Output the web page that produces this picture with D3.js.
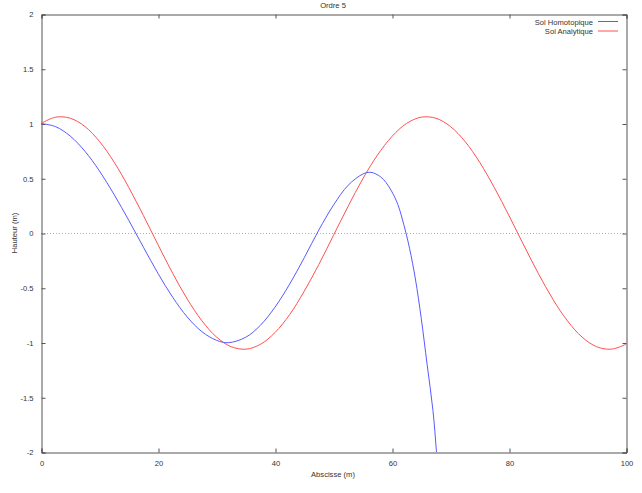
<!DOCTYPE html>
<html>
<head>
<meta charset="utf-8">
<script src="https://cdn.jsdelivr.net/npm/d3@7/dist/d3.min.js"></script>
<style>
  html, body { margin: 0; padding: 0; background: #fff; }
  svg { display: block; }
  text { font-family: "Liberation Sans", Arial, sans-serif; font-size: 7.6px; fill: #333; }
</style>
</head>
<body>
<svg id="chart" width="642" height="493"></svg>
<script>
// ---- data ----
const title = "Ordre 5";
const xLabel = "Abscisse (m)";
const yLabel = "Hauteur (m)";
const xTicks = [0, 20, 40, 60, 80, 100];
const yTicks = [-2, -1.5, -1, -0.5, 0, 0.5, 1, 1.5, 2];
const seriesNames = ["Sol Homotopique", "Sol Analytique"];

const homoX = [0, 2.5, 5, 7.5, 10, 12.5, 15, 17.5, 20, 22.5, 25, 27.5, 30, 32, 35, 37.5, 40, 42.5, 45, 47.5, 50, 52.5, 55, 56.4, 58, 59, 60, 61, 62, 63, 64, 65, 66, 67, 67.6, 68];
const homoY = [1.000, 0.971, 0.885, 0.747, 0.566, 0.351, 0.116, -0.129, -0.369, -0.586, -0.767, -0.901, -0.980, -1.002, -0.952, -0.843, -0.677, -0.467, -0.226, 0.028, 0.255, 0.436, 0.538, 0.554, 0.515, 0.460, 0.375, 0.260, 0.080, -0.140, -0.420, -0.780, -1.200, -1.620, -2.000, -2.280];

const analX = [0, 2.5, 5, 7.5, 10, 12.5, 15, 17.5, 20, 22.5, 25, 27.5, 30, 32.5, 35, 37.5, 40, 42.5, 45, 47.5, 50, 52.5, 55, 57.5, 60, 62.5, 65, 67.5, 70, 72.5, 75, 77.5, 80, 82.5, 85, 87.5, 90, 92.5, 95, 97.5, 100];
const analY = [1.000, 1.058, 1.048, 0.973, 0.836, 0.647, 0.416, 0.160, -0.107, -0.367, -0.603, -0.801, -0.950, -1.038, -1.061, -1.017, -0.909, -0.746, -0.531, -0.287, -0.021, 0.244, 0.494, 0.710, 0.882, 1.001, 1.058, 1.048, 0.972, 0.835, 0.645, 0.414, 0.158, -0.109, -0.368, -0.605, -0.803, -0.951, -1.039, -1.061, -1.016];

// ---- layout ----
const svg = d3.select("#chart");
const L = 41, R = 626, T = 14, B = 452;
const x = d3.scaleLinear().domain([0, 100]).range([L, R]);
const y = d3.scaleLinear().domain([-2, 2]).range([B, T]);

svg.append("clipPath").attr("id", "plotclip")
  .append("rect").attr("x", L).attr("y", T).attr("width", R - L).attr("height", B - T);

// zero line (dotted)
svg.append("line")
  .attr("x1", L).attr("x2", R).attr("y1", y(0) + 0.5).attr("y2", y(0) + 0.5)
  .attr("stroke", "#b0b0b0").attr("stroke-width", 1).attr("stroke-dasharray", "1,2");

// axes with inward ticks, mirrored
const fmt = d => String(d);
const gB = svg.append("g").attr("transform", `translate(0.5,${B + 0.5})`)
  .call(d3.axisBottom(x).tickValues(xTicks).tickSize(-4).tickPadding(8).tickFormat(fmt));
const gT = svg.append("g").attr("transform", `translate(0.5,${T + 0.5})`)
  .call(d3.axisTop(x).tickValues(xTicks).tickSize(-4).tickFormat(""));
const gL = svg.append("g").attr("transform", `translate(${L + 0.5},0.5)`)
  .call(d3.axisLeft(y).tickValues(yTicks).tickSize(-4).tickPadding(8).tickFormat(fmt));
const gR = svg.append("g").attr("transform", `translate(${R + 0.5},0.5)`)
  .call(d3.axisRight(y).tickValues(yTicks).tickSize(-4).tickFormat(""));

[gB, gT, gL, gR].forEach(g => {
  g.select(".domain").attr("stroke", "#555").attr("stroke-width", 1);
  g.selectAll(".tick line").attr("stroke", "#555");
  g.selectAll(".tick text").attr("fill", "#333")
    .style("font-family", '"Liberation Sans", Arial, sans-serif').style("font-size", "7.6px");
});

// curves
const line = d3.line().x(d => x(d[0])).y(d => y(d[1])).curve(d3.curveCatmullRom.alpha(0.5));
const plot = svg.append("g").attr("clip-path", "url(#plotclip)");
const cols = ["#5a5aff", "#ff5050"];
plot.append("path").datum(analX.map((v, i) => [v, analY[i]]))
  .attr("d", line).attr("fill", "none").attr("stroke", cols[1]).attr("stroke-width", 1);
plot.append("path").datum(homoX.map((v, i) => [v, homoY[i]]))
  .attr("d", line).attr("fill", "none").attr("stroke", cols[0]).attr("stroke-width", 1);

// legend
seriesNames.forEach((n, i) => {
  const yy = 21.5 + i * 9.5;
  svg.append("text").attr("x", 593).attr("y", yy + 3).attr("text-anchor", "end").text(n);
  svg.append("line").attr("x1", 598).attr("x2", 618).attr("y1", yy).attr("y2", yy)
    .attr("stroke", cols[i]).attr("stroke-width", 1);
});

// titles
svg.append("text").attr("x", 333).attr("y", 8).attr("text-anchor", "middle").text(title);
svg.append("text").attr("x", 333).attr("y", 477).attr("text-anchor", "middle").text(xLabel);
svg.append("text").attr("transform", "translate(17,233) rotate(-90)").attr("text-anchor", "middle").text(yLabel);
</script>
</body>
</html>
